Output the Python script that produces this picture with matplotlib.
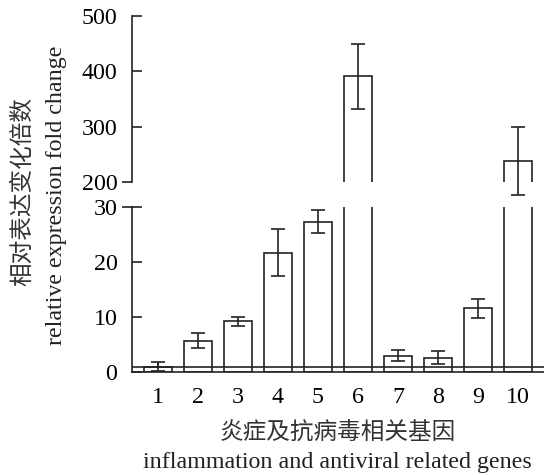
import numpy as np
import matplotlib
matplotlib.use("Agg")
import matplotlib.pyplot as plt

plt.rcParams['font.family'] = ['Liberation Serif', 'Noto Sans CJK SC']

# data
genes = ["1", "2", "3", "4", "5", "6", "7", "8", "9", "10"]
fold_change = [1.0, 5.7, 9.2, 21.7, 27.3, 391, 3.0, 2.6, 11.6, 238]
fold_err = [0.9, 1.4, 0.8, 4.3, 2.1, 59, 1.0, 1.2, 1.7, 61]

ylabel_cn = "相对表达变化倍数"
ylabel_en = "relative expression fold change"
xlabel_cn = "炎症及抗病毒相关基因"
xlabel_en = "inflammation and antiviral related genes"

x = np.arange(1, len(genes) + 1)
vals = np.array(fold_change)
errs = np.array(fold_err)
big = vals > 30

ink = "#222222"
lw = 1.2
fs = 17.3

fig = plt.figure(figsize=(5.44, 4.75), dpi=100)
ax_low = fig.add_axes([0.2426, 0.2168, 0.7574, 0.3474])
ax_up = fig.add_axes([0.2426, 0.6168, 0.7574, 0.3495])

for ax in (ax_low, ax_up):
    ax.bar(x, vals, width=0.68, facecolor="white", edgecolor=ink, linewidth=lw, zorder=2)
    ax.set_xlim(0.35, 10.65)
    ax.spines["top"].set_visible(False)
    ax.spines["right"].set_visible(False)
    ax.spines["left"].set_linewidth(lw)
    ax.spines["left"].set_color(ink)
    ax.tick_params(axis="y", which="major", direction="in", length=7.2, width=lw,
                   color=ink, labelsize=fs, pad=10.5)

# lower part
ax_low.errorbar(x[~big], vals[~big], yerr=errs[~big], fmt="none", ecolor=ink,
                elinewidth=lw, capsize=5, capthick=lw, zorder=3)
ax_low.axhline(1, color=ink, linewidth=lw, zorder=3)
ax_low.set_ylim(0, 30)
ax_low.set_yticks([0, 10, 20])
ax_low.set_yticks([30], minor=True)
ax_low.set_yticklabels(["30"], minor=True)
ax_low.tick_params(axis="y", which="minor", direction="inout", length=14.4, width=lw,
                   color=ink, labelsize=fs, pad=3.3)
ax_low.spines["bottom"].set_linewidth(lw)
ax_low.spines["bottom"].set_color(ink)
ax_low.set_xticks(x)
ax_low.set_xticklabels(genes)
ax_low.tick_params(axis="x", direction="in", length=6.5, width=lw, color=ink,
                   labelsize=fs, pad=11)
for t in ax_low.xaxis.get_major_ticks():
    t.tick1line.set_zorder(4)

# upper part
ax_up.set_ylim(200, 500)
ax_up.spines["bottom"].set_visible(False)
ax_up.set_xticks([])
ax_up.set_yticks([300, 400, 500])
ax_up.set_yticks([200], minor=True)
ax_up.set_yticklabels(["200"], minor=True)
ax_up.tick_params(axis="y", which="minor", direction="out", length=7.2, width=lw,
                  color=ink, labelsize=fs, pad=3.3)
eb = ax_up.errorbar(x[big], vals[big], yerr=errs[big], fmt="none", ecolor=ink,
                    elinewidth=lw, capsize=5, capthick=lw, zorder=3)
for art in list(eb.lines[1]) + list(eb.lines[2]):
    art.set_clip_on(False)

fig.text(0.041, 0.596, ylabel_cn, rotation=90, ha="center", va="center",
         fontsize=17, family=["Noto Sans CJK SC"], color="#333333")
fig.text(0.103, 0.589, ylabel_en, rotation=90, ha="center", va="center",
         fontsize=fs, color=ink)
fig.text(0.620, 0.088, xlabel_cn, ha="center", va="center",
         fontsize=17, family=["Noto Sans CJK SC"], color="#333333")
fig.text(0.620, 0.0147, xlabel_en, ha="center", va="baseline",
         fontsize=fs, color=ink)

fig.savefig("out.png", dpi=100)
